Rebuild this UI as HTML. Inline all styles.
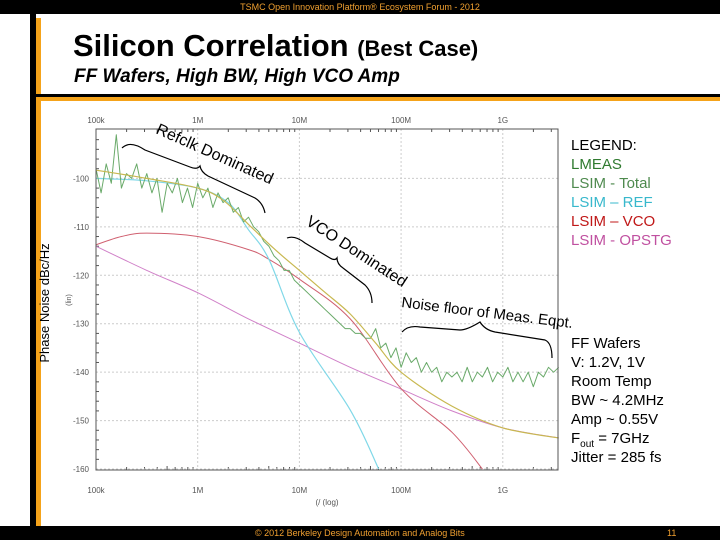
<!DOCTYPE html>
<html><head><meta charset="utf-8"><style>
body{margin:0;width:720px;height:540px;overflow:hidden;background:#fff;font-family:"Liberation Sans",sans-serif;position:relative}
.abs{position:absolute}
.leg div{height:19px;line-height:19px;font-size:15px}
</style></head><body>
<div class="abs" style="left:0;top:0;width:720px;height:14px;background:#000;color:#f0a030;font-size:9px;text-align:center;line-height:14px">TSMC Open Innovation Platform® Ecosystem Forum - 2012</div>
<div class="abs" style="left:30px;top:14px;width:6px;height:512px;background:#000"></div>
<div class="abs" style="left:36px;top:18px;width:5px;height:508px;background:#f5a31a"></div>
<div class="abs" style="left:36px;top:94px;width:684px;height:3px;background:#000"></div>
<div class="abs" style="left:36px;top:97px;width:684px;height:4px;background:#f5a31a"></div>
<div class="abs" style="left:73px;top:28px;font-size:31px;font-weight:bold;color:#000;white-space:nowrap">Silicon Correlation <span style="font-size:22px">(Best Case)</span></div>
<div class="abs" style="left:74px;top:66px;font-size:19px;font-weight:bold;font-style:italic;white-space:nowrap">FF Wafers, High BW, High VCO Amp</div>
<div class="abs" style="left:0;top:526px;width:720px;height:14px;background:#000;color:#f0a030;font-size:9px;line-height:14px"><span style="position:absolute;left:255px">© 2012 Berkeley Design Automation and Analog Bits</span><span style="position:absolute;left:667px">11</span></div>

<div class="abs leg" style="left:571px;top:136px">
<div style="color:#000">LEGEND:</div>
<div style="color:#2f7a2f">LMEAS</div>
<div style="color:#4e8a4e">LSIM - Total</div>
<div style="color:#38b8cc">LSIM – REF</div>
<div style="color:#c01818">LSIM – VCO</div>
<div style="color:#c050a0">LSIM - OPSTG</div>
</div>
<div class="abs leg" style="left:571px;top:334px;color:#000">
<div>FF Wafers</div><div>V: 1.2V, 1V</div><div>Room Temp</div><div>BW ~ 4.2MHz</div><div>Amp ~ 0.55V</div><div>F<sub style="font-size:10px">out</sub> = 7GHz</div><div>Jitter = 285 fs</div>
</div>

<svg class="abs" style="left:0;top:0" width="720" height="540" id="chart" font-family="Liberation Sans, sans-serif">
<text x="49" y="303" font-size="13" transform="rotate(-90 49 303)" text-anchor="middle">Phase Noise dBc/Hz</text>
<text x="71" y="300" font-size="7" fill="#555" transform="rotate(-90 71 300)" text-anchor="middle">(lin)</text>
<text x="327" y="505" font-size="8" fill="#555" text-anchor="middle">(/ (log)</text>
<g id="grid"></g><g id="series"></g>
<rect x="96" y="129" width="462" height="341" fill="none" stroke="#555" stroke-width="1"/>
<g fill="none" stroke="#000" stroke-width="1.2">
<path d="M122,148 Q130,140 145,150 L190,167 Q197,170 200,166 Q201,172 208,176 L255,198 Q263,203 265,213"/>
<path d="M287,238 Q295,235 305,243 L330,258 Q335,261 337,258 Q337,264 343,268 L365,285 Q372,292 372,303"/>
<path d="M402,332 Q408,325 420,327 L460,330 Q467,330 480,322 Q485,330 495,332 L545,340 Q552,343 552,358"/>
</g>
<g font-size="16" fill="#000">
<text x="155" y="133" transform="rotate(24 155 133)">Refclk Dominated</text>
<text x="305" y="224" transform="rotate(33 305 224)">VCO Dominated</text>
<text x="401" y="307" font-size="15" transform="rotate(7 401 307)">Noise floor of Meas. Eqpt.</text>
</g>
</svg>
<script>
const xTickVals=[5,6,7,8,9];
const xTickLabels=["100k","1M","10M","100M","1G"];
const yTickVals=[-100,-110,-120,-130,-140,-150,-160];
const yTickLabels=["-100","-110","-120","-130","-140","-150","-160"];
const totalLogF=[5.0,5.5,6.0,6.25,6.5,6.75,7.0,7.25,7.5,7.75,8.0,8.5,9.0,9.55];
const totalDb=[-98.3,-100,-102,-104.5,-109.5,-114.5,-119,-123.5,-128,-134,-140,-147,-151.5,-153.6];
const refLogF=[5.0,5.5,6.0,6.3,6.5,6.7,7.0,7.5,7.78];
const refDb=[-100,-100.5,-102,-105,-110.6,-116.7,-131.8,-147.8,-160];
const vcoLogF=[5.0,5.25,5.5,6.0,6.5,6.7,7.0,7.5,8.0,8.5,8.8];
const vcoDb=[-113.7,-112,-111.3,-112,-114.7,-116.7,-120.8,-129,-143.4,-152.4,-160];
const opstgLogF=[5.0,5.5,6.0,6.5,7.0,7.5,8.0,8.5,9.0,9.55];
const opstgDb=[-114,-119,-123.6,-129,-134,-139,-143.5,-148,-151.5,-153.6];
const measDb=[-98,-103,-97,-101,-91,-102,-99,-100,-97,-102,-99,-103,-100,-107,-101,-103,-100,-105,-102,-106,-101,-104,-102,-106,-103,-105,-104,-107,-106,-109,-108,-110,-111,-113,-114,-116,-117,-119,-119,-121,-122,-123,-124,-125,-126,-127,-128,-129,-130,-131,-131,-132,-132,-133,-133,-131,-135,-134,-137,-135,-139,-136,-138,-137,-140,-138,-140,-139,-142,-140,-141,-140,-142,-139,-142,-140,-141,-139,-142,-140,-141,-139,-142,-140,-142,-140,-143,-140,-141,-139,-140,-139];
const measStart=5.0, measStep=0.05;
const NS="http://www.w3.org/2000/svg";
const X0=96,X1=558,L0=5.0,L1=9.543,Y0=129,Y1=470,D0=-89.8,D1=-160.2;
const xs=l=>X0+(l-L0)/(L1-L0)*(X1-X0);
const ys=d=>Y0+(d-D0)/(D1-D0)*(Y1-Y0);
function mk(t,a,p){const e=document.createElementNS(NS,t);for(const k in a)e.setAttribute(k,a[k]);p.appendChild(e);return e;}
const grid=document.getElementById('grid'),ser=document.getElementById('series');
xTickVals.forEach((v,i)=>{
 const x=xs(v);
 const g=mk('line',{x1:x,x2:x,y1:Y0,y2:Y1,stroke:'#ccc','stroke-dasharray':'2,2'},grid);
 
 const t=mk('text',{x:x,y:123,'font-size':8,fill:'#555','text-anchor':'middle'},grid);t.textContent=xTickLabels[i];
 
 const b=mk('text',{x:x,y:493,'font-size':8,fill:'#555','text-anchor':'middle'},grid);b.textContent=xTickLabels[i];
 
 for(let m=2;m<=9;m++){const lx=xs(v+Math.log10(m));if(lx>X1)break;
  mk('line',{x1:lx,x2:lx,y1:Y1,y2:Y1-(m==5?4:3),stroke:'#555'},grid);
  mk('line',{x1:lx,x2:lx,y1:Y0,y2:Y0+3,stroke:'#555'},grid);}
});
yTickVals.forEach((v,i)=>{
 const y=ys(v);
 const g=mk('line',{x1:X0,x2:X1,y1:y,y2:y,stroke:'#ccc','stroke-dasharray':'2,2'},grid);
 
 const t=mk('text',{x:89,y:y+3,'font-size':8,fill:'#555','text-anchor':'end'},grid);t.textContent=yTickLabels[i];
 
 for(let k=1;k<5;k++){const yy=ys(v+k*2);if(yy>Y0)mk('line',{x1:X0,x2:X0+3,y1:yy,y2:yy,stroke:'#555'},grid);}
});
function line(lf,db,color,name,w,smooth){
 const P=lf.map((l,i)=>[xs(l),ys(db[i])]);
 let d='M'+P[0][0].toFixed(1)+','+P[0][1].toFixed(1);
 for(let i=1;i<P.length;i++){
  if(!smooth){d+=' L'+P[i][0].toFixed(1)+','+P[i][1].toFixed(1);continue;}
  const p0=P[i-2]||P[i-1],p1=P[i-1],p2=P[i],p3=P[i+1]||P[i];
  const c1=[p1[0]+(p2[0]-p0[0])/6,p1[1]+(p2[1]-p0[1])/6],c2=[p2[0]-(p3[0]-p1[0])/6,p2[1]-(p3[1]-p1[1])/6];
  d+=' C'+c1.map(v=>v.toFixed(1))+' '+c2.map(v=>v.toFixed(1))+' '+p2.map(v=>v.toFixed(1));
 }
 const p=mk('path',{d:d,fill:'none',stroke:color,'stroke-width':w||1,'stroke-linejoin':'round'},ser);
 
}
line(opstgLogF,opstgDb,'#d080c8','opstg-line',1,true);
line(vcoLogF,vcoDb,'#d06070','vco-line',1,true);
line(refLogF,refDb,'#80d8e8','ref-line',1.2,true);
line(measDb.map((_,i)=>measStart+i*measStep),measDb,'#6aaa6a','lmeas-line',1,false);
line(totalLogF,totalDb,'#c8b850','total-line',1.2,true);
</script>
</body></html>
